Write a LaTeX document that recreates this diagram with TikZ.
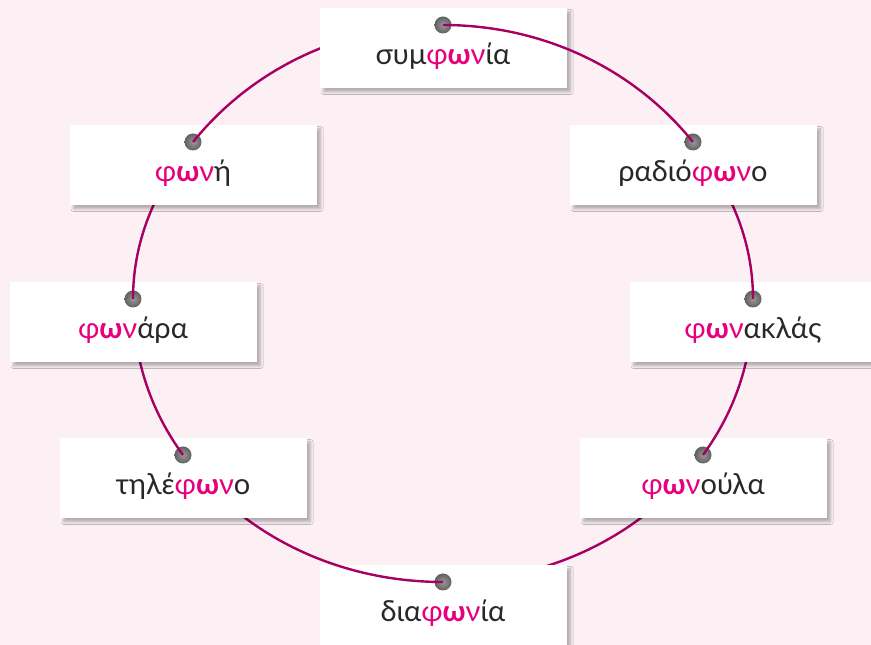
\documentclass[tikz,border=0pt]{standalone}
\usepackage{fontspec}
\setmainfont{Lato}
\usepackage{xcolor}
\usepackage{tikz}
\usetikzlibrary{positioning,calc,shadows.blur}

\definecolor{bgpink}{RGB}{252,240,245}
\definecolor{wine}{RGB}{166,0,98}
\definecolor{hotpink}{RGB}{230,0,126}
\definecolor{ink}{RGB}{40,40,40}

\newcommand{\fwn}{{\color{hotpink}φ\textbf{ω}ν}}

\begin{document}
\begin{tikzpicture}[x=1pt,y=1pt,
    card/.style={fill=white, minimum width=247pt, minimum height=80pt, inner sep=0pt,
        blur shadow={shadow xshift=4pt, shadow yshift=-4pt, shadow blur radius=2.5pt,
                     shadow blur steps=8, shadow opacity=28}},
    word/.style={anchor=base, text=ink, font=\fontsize{29}{33}\selectfont},
    pin/.style={circle, minimum size=17pt, inner sep=0pt, shading=radial, inner color=black!40, outer color=black!62},
    link/.style={wine, line width=2.4pt, looseness=0.9}]

    % background
    \fill[bgpink] (0,0) rectangle (871,645);
    \useasboundingbox (0,0) rectangle (871,645);

    % pin points on the ring
    \foreach \n/\x/\y in {1/443/620, 2/193/503, 3/693/503, 4/133/346,
                          5/753/346, 6/183/190, 7/703/190, 8/443/63}
        \coordinate (d\n) at (\x,\y);

    % bottom right arc
    \draw[link] (d7) to[out=234, in=0] (d8);

    % διαφωνία
    \node[card] (b8) at ([yshift=-23pt]d8) {};
    \node[word] (w8) at ([yshift=-40pt]d8) {δια\fwn ία};
    \node[pin] (p8) at (d8) {};
    \draw[link] (d8) to[out=180, in=306] (d6);

    % φωνούλα
    \node[card] (b7) at ([yshift=-23pt]d7) {};
    \node[word] (w7) at ([yshift=-40pt]d7) {\fwn ούλα};
    \node[pin] (p7) at (d7) {};
    \draw[link] (d7) to[out=54, in=270] (d5);

    % τηλέφωνο
    \node[card] (b6) at ([yshift=-23pt]d6) {};
    \node[word] (w6) at ([yshift=-40pt]d6) {τηλέ\fwn ο};
    \node[pin] (p6) at (d6) {};
    \draw[link] (d6) to[out=126, in=270] (d4);

    % φωνακλάς
    \node[card] (b5) at ([yshift=-23pt]d5) {};
    \node[word] (w5) at ([yshift=-40pt]d5) {\fwn ακλάς};
    \node[pin] (p5) at (d5) {};
    \draw[link] (d5) to[out=90, in=309] (d3);

    % φωνάρα
    \node[card] (b4) at ([yshift=-23pt]d4) {};
    \node[word] (w4) at ([yshift=-40pt]d4) {\fwn άρα};
    \node[pin] (p4) at (d4) {};
    \draw[link] (d4) to[out=90, in=231] (d2);

    % ραδιόφωνο
    \node[card] (b3) at ([yshift=-23pt]d3) {};
    \node[word] (w3) at ([yshift=-40pt]d3) {ραδιό\fwn ο};
    \node[pin] (p3) at (d3) {};

    % φωνή
    \node[card] (b2) at ([yshift=-23pt]d2) {};
    \node[word] (w2) at ([yshift=-40pt]d2) {\fwn ή};
    \node[pin] (p2) at (d2) {};
    \draw[link] (d2) to[out=51, in=180] (d1);

    % συμφωνία
    \node[card] (b1) at ([yshift=-23pt]d1) {};
    \node[word] (w1) at ([yshift=-40pt]d1) {συμ\fwn ία};
    \node[pin] (p1) at (d1) {};
    \draw[link] (d1) to[out=0, in=129] (d3);
\end{tikzpicture}
\end{document}
